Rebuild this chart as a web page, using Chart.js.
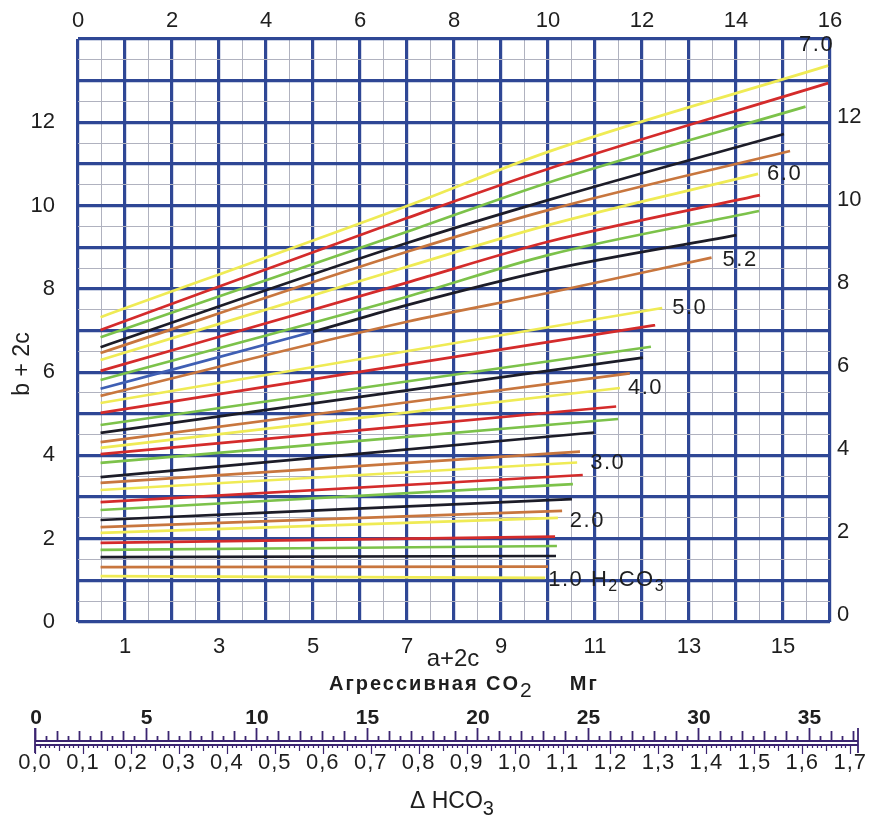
<!DOCTYPE html>
<html>
<head>
<meta charset="utf-8">
<script src="https://cdn.jsdelivr.net/npm/chart.js@4.4.0/dist/chart.umd.min.js"></script>
<style>
  html, body { margin: 0; padding: 0; background: #fff; }
</style>
</head>
<body>
<canvas id="nomoChart" width="876" height="817"></canvas>
<script>
// Кривые номограммы
const levels = ['1.0','1.2','1.4','1.6','1.8','2.0','2.2','2.4','2.6','2.8','3.0','3.2','3.4','3.6','3.8','4.0','4.2','4.4','4.6','4.8','5.0','5.2','5.4','5.6','5.8','6.0','6.2','6.4','6.6','6.8','7.0'];
const startX = 0.48;
const startY = [1.10,1.32,1.56,1.73,1.90,2.14,2.28,2.45,2.69,2.88,3.17,3.34,3.48,3.82,4.03,4.18,4.32,4.54,4.73,5.02,5.26,5.43,5.60,5.81,6.03,6.29,6.46,6.60,6.84,7.01,7.32];
const yAt7 = [null,null,null,null,null,null,null,null,null,null,null,null,null,null,null,null,null,null,null,null,null,7.21,7.61,7.81,8.15,8.53,8.89,9.10,9.37,9.70,9.99];
const yAt10 = [null,null,null,null,null,null,null,null,null,null,null,null,null,null,null,null,null,null,null,null,null,7.90,8.45,8.81,9.13,9.53,9.89,10.13,10.55,10.88,11.29];
const endX = [9.94,10.00,10.17,10.19,10.15,10.21,10.30,10.51,10.53,10.74,10.62,10.68,10.98,11.49,11.45,11.53,11.74,12.02,12.19,12.28,12.43,13.48,14.01,14.49,14.51,14.47,15.15,15.02,15.48,15.96,15.96];
const endY = [1.06,1.33,1.585,1.825,2.05,2.50,2.67,2.95,3.31,3.53,3.83,4.09,4.55,4.875,5.175,5.62,5.97,6.35,6.61,7.13,7.54,8.75,9.29,9.87,10.25,10.76,11.31,11.72,12.375,12.94,13.36];
// синий участок кривой 5.4
const blueLevel = '5.4';
const blueToX = 5.0;
const blueToY = 6.97;

// Подписи осей
const topTicks = [0,2,4,6,8,10,12,14,16];
const bottomTicks = [1,3,5,7,9,11,13,15];
const leftTicks = [0,2,4,6,8,10,12];
const rightTicks = [0,2,4,6,8,10,12];
const labelledLevels = ['1.0','2.0','3.0','4.0','5.0','5.2','6.0','7.0'];

// Шкала внизу: мг CO2 и ΔHCO3 (мг-экв)
const mgTicks = [0,5,10,15,20,25,30,35];
const hco3Ticks = [0.0,0.1,0.2,0.3,0.4,0.5,0.6,0.7,0.8,0.9,1.0,1.1,1.2,1.3,1.4,1.5,1.6,1.7];
const mgPerHco3 = 21.7;
const mgMax = 37.24;

// Оформление
const cycleColors = ['#efeb55', '#c8763e', '#1c1c28', '#7cc24a', '#d42b2b'];
const blueColor = '#3f5fb4';
const majorGrid = '#2f4795';
const minorGrid = '#b0b2bf';
const rulerColor = '#3b2470';
const textColor = '#1e1e1e';
const FONT = "'Liberation Sans', Arial, sans-serif";
const labelOffsets = {
    '1.0': [3, 2], '2.0': [12, 3], '3.0': [13, 0], '4.0': [8, 0],
    '5.0': [10, 0], '5.2': [11, 2], '6.0': [9, 0], '7.0': [-29, -21]
};

function buildDatasets() {
    return levels.map((lv, i) => {
        const pts = [{ x: startX, y: startY[i] }];
        if (lv === blueLevel) pts.push({ x: blueToX, y: blueToY });
        if (yAt7[i] !== null) pts.push({ x: 7, y: yAt7[i] });
        if (yAt10[i] !== null && endX[i] > 10.3) pts.push({ x: 10, y: yAt10[i] });
        pts.push({ x: endX[i], y: endY[i] });
        const color = cycleColors[i % 5];
        const ds = {
            label: lv,
            data: pts,
            borderColor: color,
            borderWidth: 2.7,
            pointRadius: 0,
            cubicInterpolationMode: 'monotone',
            xAxisID: 'x',
            yAxisID: 'y'
        };
        if (lv === blueLevel) {
            ds.segment = { borderColor: c => (c.p1.parsed.x <= blueToX ? blueColor : color) };
        }
        return ds;
    });
}

function gridStyle(ctx, major, minor) {
    const v = ctx.tick ? ctx.tick.value : 0;
    return Number.isInteger(v) ? major : minor;
}

function drawParts(ctx, x, y, parts, font, subFont, drop) {
    // текст с нижними индексами
    let cx = x;
    parts.forEach(p => {
        ctx.font = p.sub ? subFont : font;
        ctx.fillText(p.t, cx, y + (p.sub ? drop : 0));
        cx += ctx.measureText(p.t).width;
    });
    return cx;
}

function setSpacing(ctx, px) {
    if ('letterSpacing' in ctx) ctx.letterSpacing = px + 'px';
}

const nomoPlugin = {
    id: 'nomoExtras',
    afterDraw(chart) {
        const ctx = chart.ctx;
        ctx.save();
        ctx.fillStyle = textColor;
        ctx.textBaseline = 'middle';
        ctx.textAlign = 'left';

        // подписи кривых
        setSpacing(ctx, 1.5);
        labelledLevels.forEach(lv => {
            const i = levels.indexOf(lv);
            const meta = chart.getDatasetMeta(i);
            const last = meta.data[meta.data.length - 1];
            const off = labelOffsets[lv];
            const x = last.x + off[0];
            const y = last.y + off[1];
            if (lv === '1.0') {
                drawParts(ctx, x, y, [{ t: '1.0 H' }, { t: '2', sub: true }, { t: 'CO' }, { t: '3', sub: true }],
                    `22px ${FONT}`, `16px ${FONT}`, 7);
            } else {
                ctx.font = `22px ${FONT}`;
                ctx.fillText(lv, x, y);
            }
        });
        setSpacing(ctx, 0);

        // заголовок левой оси
        ctx.save();
        ctx.translate(23, 364);
        ctx.rotate(-Math.PI / 2);
        ctx.textAlign = 'center';
        ctx.font = `23px ${FONT}`;
        ctx.fillText('b + 2c', 0, 0);
        ctx.restore();

        // подписи нижней оси
        ctx.font = `24px ${FONT}`;
        ctx.textAlign = 'center';
        ctx.fillText('a+2c', 453, 659);
        ctx.textAlign = 'left';
        setSpacing(ctx, 2);
        const endCo = drawParts(ctx, 329, 684, [{ t: 'Агрессивная CO' }, { t: '2', sub: true }],
            `bold 20px ${FONT}`, `21px ${FONT}`, 7);
        ctx.font = `bold 20px ${FONT}`;
        ctx.fillText('Мг', endCo + 36, 684);
        setSpacing(ctx, 0);

        drawRuler(ctx);

        // ΔHCO3
        ctx.fillStyle = textColor;
        ctx.textAlign = 'left';
        drawParts(ctx, 410, 802, [{ t: '\u0394 HCO' }, { t: '3', sub: true }], `23px ${FONT}`, `20px ${FONT}`, 7);
        ctx.restore();
    }
};

function drawRuler(ctx) {
    const x0 = 35, pxPerMg = 22.1, lineY = 741;
    const toX = mg => x0 + mg * pxPerMg;
    ctx.save();
    ctx.strokeStyle = rulerColor;
    ctx.lineWidth = 2;
    ctx.beginPath();
    ctx.moveTo(toX(0), lineY); ctx.lineTo(toX(mgMax), lineY);
    ctx.moveTo(toX(0), lineY + 4); ctx.lineTo(toX(mgMax), lineY + 4);
    ctx.stroke();

    // верхние деления: каждые 0,5 мг
    ctx.lineWidth = 1.8;
    ctx.beginPath();
    for (let k = 0; k <= Math.floor(mgMax * 2); k++) {
        const x = Math.round(toX(k / 2)) + 0.5;
        const h = k % 10 === 0 ? 13 : (k % 2 === 0 ? 10 : 5);
        ctx.moveTo(x, lineY); ctx.lineTo(x, lineY - h);
    }
    // концы шкалы
    ctx.moveTo(toX(0), lineY - 13); ctx.lineTo(toX(0), lineY + 12);
    ctx.moveTo(toX(mgMax), lineY - 13); ctx.lineTo(toX(mgMax), lineY + 12);
    ctx.stroke();

    // нижние деления: каждые 0,01 мг-экв
    ctx.lineWidth = 1.2;
    ctx.beginPath();
    const hMax = hco3Ticks[hco3Ticks.length - 1];
    for (let k = 0; k <= Math.round(hMax * 100); k++) {
        const x = Math.round(toX(k / 100 * mgPerHco3)) + 0.5;
        const h = k % 10 === 0 ? 9 : (k % 5 === 0 ? 6 : 3);
        ctx.moveTo(x, lineY + 4); ctx.lineTo(x, lineY + 4 + h);
    }
    ctx.stroke();

    ctx.fillStyle = textColor;
    ctx.textAlign = 'center';
    ctx.textBaseline = 'middle';
    ctx.font = `bold 21px ${FONT}`;
    mgTicks.forEach(v => ctx.fillText(String(v), toX(v) + 1, 718));
    ctx.font = `22px ${FONT}`;
    setSpacing(ctx, 1);
    hco3Ticks.forEach(v => ctx.fillText(v.toFixed(1).replace('.', ','), toX(v * mgPerHco3), 763));
    setSpacing(ctx, 0);
    ctx.restore();
}

function initNomogram() {
    const canvas = document.getElementById('nomoChart');
    const tickFont = { family: FONT, size: 22 };
    new Chart(canvas.getContext('2d'), {
        type: 'line',
        data: { datasets: buildDatasets() },
        options: {
            responsive: false,
            animation: false,
            events: [],
            layout: { padding: 0 },
            plugins: { legend: { display: false }, tooltip: { enabled: false } },
            scales: {
                x: {
                    type: 'linear', position: 'top', min: 0, max: 16,
                    afterFit: s => { s.height = 39; },
                    border: { display: false },
                    grid: {
                        drawTicks: false,
                        color: c => gridStyle(c, majorGrid, minorGrid),
                        lineWidth: c => gridStyle(c, 3.2, 1)
                    },
                    ticks: {
                        stepSize: 0.5, autoSkip: false, maxRotation: 0, padding: 5,
                        color: textColor, font: tickFont,
                        callback: v => (topTicks.includes(v) ? String(v) : '')
                    }
                },
                xb: {
                    type: 'linear', position: 'bottom', min: 0, max: 16,
                    afterFit: s => { s.height = 195; },
                    afterBuildTicks: s => { s.ticks = bottomTicks.map(v => ({ value: v })); },
                    border: { display: false },
                    grid: { display: false, drawTicks: false },
                    ticks: { autoSkip: false, maxRotation: 0, padding: 12, color: textColor, font: tickFont }
                },
                y: {
                    type: 'linear', position: 'left', min: 0, max: 14,
                    afterFit: s => { s.width = 78; },
                    border: { display: false },
                    grid: {
                        drawTicks: false,
                        color: c => gridStyle(c, majorGrid, minorGrid),
                        lineWidth: c => gridStyle(c, 3.2, 1)
                    },
                    ticks: {
                        stepSize: 0.5, autoSkip: false, padding: 23,
                        color: textColor, font: tickFont,
                        callback: v => (leftTicks.includes(v) ? String(v) : '')
                    }
                },
                yr: {
                    type: 'linear', position: 'right', min: -0.17, max: 13.88,
                    afterFit: s => { s.width = 46; },
                    afterBuildTicks: s => { s.ticks = rightTicks.map(v => ({ value: v })); },
                    border: { display: false },
                    grid: { display: false, drawTicks: false },
                    ticks: { autoSkip: false, padding: 7, color: textColor, font: tickFont }
                }
            }
        },
        plugins: [nomoPlugin]
    });
}

document.addEventListener('DOMContentLoaded', initNomogram);
</script>
</body>
</html>
